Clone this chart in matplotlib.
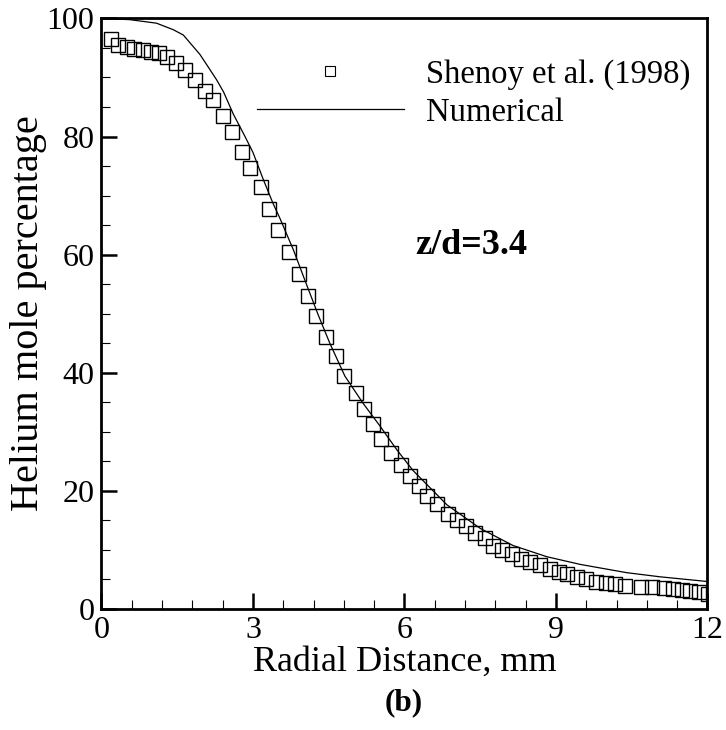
import matplotlib
matplotlib.use("Agg")
import matplotlib.pyplot as plt
from matplotlib.lines import Line2D
from matplotlib.ticker import MultipleLocator

plt.rcParams['font.family'] = ['Liberation Serif', 'DejaVu Serif']

# Experimental data (Shenoy et al. 1998)
exp_x = [0.18, 0.33, 0.50, 0.65, 0.82, 0.98, 1.14, 1.30, 1.48, 1.65, 1.85, 2.05,
         2.21, 2.41, 2.58, 2.78, 2.94, 3.15, 3.32, 3.50, 3.71, 3.91, 4.08, 4.25,
         4.44, 4.64, 4.80, 5.03, 5.20, 5.37, 5.54, 5.73, 5.93, 6.10, 6.28, 6.45,
         6.64, 6.86, 7.03, 7.22, 7.40, 7.59, 7.75, 7.94, 8.13, 8.31, 8.49, 8.68,
         8.88, 9.05, 9.22, 9.41, 9.60, 9.80, 9.99, 10.17, 10.37, 10.68, 10.91,
         11.13, 11.32, 11.49, 11.65, 11.84, 12.02]
exp_y = [96.5, 95.5, 95.2, 94.9, 94.7, 94.4, 94.1, 93.4, 92.4, 91.2, 89.6, 87.7,
         86.2, 83.4, 80.7, 77.4, 74.6, 71.5, 67.8, 64.2, 60.5, 56.7, 53.0, 49.6,
         46.1, 42.8, 39.5, 36.5, 33.8, 31.3, 28.8, 26.4, 24.3, 22.4, 20.8, 19.1,
         17.7, 16.1, 15.0, 14.0, 12.9, 11.9, 10.7, 9.9, 9.3, 8.5, 7.9, 7.4,
         6.8, 6.2, 5.8, 5.4, 5.1, 4.6, 4.3, 4.1, 3.9, 3.75, 3.6,
         3.45, 3.3, 3.2, 3.0, 2.8, 2.5]

# Numerical result
num_x = [0.0, 0.56, 1.09, 1.42, 1.62, 1.95, 2.15, 2.28, 2.42, 2.61, 2.83, 3.00,
         3.20, 3.40, 3.53, 3.80, 4.03, 4.29, 4.52, 4.82, 5.18, 5.51, 5.85, 6.17,
         6.84, 7.50, 8.15, 8.82, 9.48, 10.40, 11.06, 12.0]
num_y = [100.0, 99.8, 99.2, 98.1, 97.2, 93.9, 91.3, 89.6, 87.5, 83.8, 80.2, 77.3,
         72.8, 68.6, 66.2, 60.8, 55.6, 49.8, 45.0, 39.4, 34.8, 31.0, 26.9, 23.4,
         17.6, 13.6, 10.7, 8.8, 7.5, 6.1, 5.4, 4.6]

x_ticks = [0, 3, 6, 9, 12]
y_ticks = [0, 20, 40, 60, 80, 100]

fig = plt.figure(figsize=(7.26, 7.30), dpi=100)
ax = fig.add_axes([0.1398, 0.1662, 0.8347, 0.8085])

ax.plot(num_x, num_y, color='black', lw=0.9)
ax.plot(exp_x, exp_y, ls='none', marker='s', ms=9.8, mfc='none',
        mec='black', mew=1.0)

ax.set_xlim(0, 12)
ax.set_ylim(0, 100)
ax.set_xticks(x_ticks)
ax.set_yticks(y_ticks)
ax.xaxis.set_minor_locator(MultipleLocator(0.6))
ax.yaxis.set_minor_locator(MultipleLocator(5))
ax.tick_params(which='both', direction='in', top=False, right=False)
ax.tick_params(which='major', length=11.5, width=1.8, labelsize=23, pad=5)
ax.tick_params(which='minor', length=6.5, width=0.8)
for s in ax.spines.values():
    s.set_linewidth(2.0)

ax.set_xlabel('Radial Distance, mm', fontsize=26, labelpad=1)
ax.set_ylabel('Helium mole percentage', fontsize=29, labelpad=0)

ax.text(6.21, 61.6, 'z/d=3.4', fontsize=26, fontweight='bold', va='center', ha='left')
fig.text(0.556, 0.037, '(b)', fontsize=22.5, fontweight='bold', ha='center', va='center')

handles = [Line2D([], [], ls='none', marker='s', ms=7.2, mfc='none', mec='black', mew=0.8),
           Line2D([], [], color='black', lw=0.9)]
ax.legend(handles, ['Shenoy et al. (1998)', 'Numerical'], loc='upper left',
          bbox_to_anchor=(0.2566, 0.9314), frameon=False, fontsize=23.5,
          handlelength=4.5, handletextpad=0.68, labelspacing=0.23, borderpad=0,
          borderaxespad=0)

fig.savefig('out.png', dpi=100)
